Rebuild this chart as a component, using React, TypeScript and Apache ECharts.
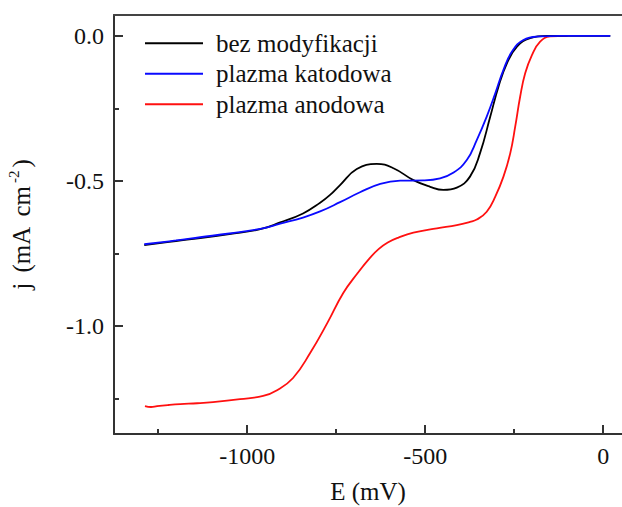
import React, { useEffect, useRef } from "react";
import * as echarts from "echarts";

const FONT = "Liberation Serif";

const seriesNames = ["bez modyfikacji", "plazma katodowa", "plazma anodowa"];
const seriesColors = ["#000000", "#0a0aff", "#ff1010"];

const blackData: [number, number][] = [
  [-1289, -0.721], [-1200, -0.707], [-1132, -0.697], [-1050, -0.683], [-963, -0.666],
  [-907, -0.643], [-843, -0.612], [-795, -0.575], [-767, -0.548], [-739, -0.514],
  [-692, -0.459], [-636, -0.441], [-589, -0.456], [-533, -0.497], [-486, -0.52],
  [-449, -0.531], [-411, -0.523], [-374, -0.485], [-346, -0.405], [-317, -0.278],
  [-294, -0.175], [-270, -0.094], [-242, -0.037], [-205, -0.008], [-158, 0],
  [-100, 0], [20, 0],
];

const blueData: [number, number][] = [
  [-1289, -0.718], [-1200, -0.705], [-1132, -0.694], [-1050, -0.681], [-963, -0.665],
  [-907, -0.647], [-843, -0.626], [-795, -0.605], [-739, -0.573], [-683, -0.539],
  [-626, -0.510], [-570, -0.499], [-505, -0.498], [-458, -0.491], [-420, -0.471],
  [-383, -0.428], [-355, -0.359], [-327, -0.278], [-303, -0.198], [-280, -0.117],
  [-256, -0.054], [-224, -0.014], [-177, -0.002], [-120, 0], [20, 0],
];

const redData: [number, number][] = [
  [-1287, -1.276], [-1270, -1.279], [-1253, -1.276], [-1220, -1.272], [-1188, -1.269],
  [-1140, -1.266], [-1096, -1.262], [-1020, -1.252], [-955, -1.241], [-916, -1.221],
  [-871, -1.179], [-823, -1.093], [-775, -0.99], [-730, -0.886], [-690, -0.818],
  [-655, -0.765], [-630, -0.734], [-605, -0.712], [-575, -0.695], [-533, -0.678],
  [-467, -0.663], [-411, -0.652], [-374, -0.641], [-355, -0.633], [-327, -0.606],
  [-303, -0.554], [-280, -0.485], [-261, -0.405], [-247, -0.313], [-233, -0.209],
  [-219, -0.129], [-200, -0.066], [-177, -0.02], [-149, -0.002], [-100, 0],
];

const xMajorTicks = [-1000, -500, 0];
const xMinorTicks = [-1250, -750, -250];
const yMajorTicks = [0, -0.5, -1.0];
const yMinorTicks = [-0.25, -0.75, -1.25];

const X_MIN = -1374;
const X_MAX = 53;
const Y_MIN = -1.372;
const Y_MAX = 0.072;

const AXIS_COLOR = "#333";

export default function App() {
  const ref = useRef<HTMLDivElement>(null);
  useEffect(() => {
    if (!ref.current) return;
    const chart = echarts.init(ref.current, undefined, { renderer: "svg" });
    const baseX = {
      type: "value" as const,
      min: X_MIN,
      max: X_MAX,
      splitLine: { show: false },
    };
    const baseY = {
      type: "value" as const,
      min: Y_MIN,
      max: Y_MAX,
      splitLine: { show: false },
    };
    const lineSeries = (idx: number, data: [number, number][]) => ({
      name: seriesNames[idx],
      type: "line",
      data,
      color: seriesColors[idx],
      showSymbol: false,
      symbol: "none",
      smooth: 0.45,
      lineStyle: { width: 1.8, color: seriesColors[idx] },
    });
    chart.setOption({
      animation: false,
      backgroundColor: "#ffffff",
      textStyle: { fontFamily: FONT },
      grid: { left: 114, right: 0, top: 15, bottom: 73, containLabel: false, outerBoundsMode: "none" },
      legend: {
        data: seriesNames,
        orient: "vertical",
        left: 140,
        top: 23,
        icon: "rect",
        itemWidth: 58,
        itemHeight: 2,
        itemGap: 0,
        textStyle: {
          fontFamily: FONT,
          fontSize: 25,
          color: "#111",
          lineHeight: 30.5,
          padding: [0, 0, 0, 8],
        },
      },
      xAxis: [
        {
          ...baseX,
          position: "bottom",
          name: "E (mV)",
          nameLocation: "middle",
          nameGap: 45,
          nameTextStyle: { fontFamily: FONT, fontSize: 25, color: "#111" },
          axisLine: { show: true, onZero: false, lineStyle: { color: AXIS_COLOR, width: 2 } },
          axisTick: {
            show: true,
            inside: true,
            length: 9,
            customValues: xMajorTicks,
            lineStyle: { color: AXIS_COLOR, width: 2 },
          },
          axisLabel: {
            customValues: xMajorTicks,
            margin: 10,
            fontFamily: FONT,
            fontSize: 24,
            color: "#111",
            formatter: (v: number) => String(v),
          },
        },
        {
          ...baseX,
          position: "bottom",
          axisLine: { show: false, onZero: false },
          axisTick: {
            show: true,
            inside: true,
            length: 5,
            customValues: xMinorTicks,
            lineStyle: { color: AXIS_COLOR, width: 2 },
          },
          axisLabel: { show: false },
        },
        {
          ...baseX,
          position: "top",
          axisLine: { show: true, onZero: false, lineStyle: { color: "#444", width: 2 } },
          axisTick: { show: false },
          axisLabel: { show: false },
        },
      ],
      yAxis: [
        {
          ...baseY,
          position: "left",
          name: "{a|j} {a|(mA} {a|cm}{sup|-2}{a|)}",
          nameLocation: "middle",
          nameGap: 80,
          nameRotate: 90,
          nameTextStyle: {
            fontFamily: FONT,
            fontSize: 25,
            color: "#111",
            rich: {
              a: { fontFamily: FONT, fontSize: 25, color: "#111", lineHeight: 30, verticalAlign: "bottom", padding: [0, 2, 0, 2] },
              sup: { fontFamily: FONT, fontSize: 15, color: "#111", lineHeight: 30, verticalAlign: "top", padding: [2, 1, 0, 1] },
            },
          },
          axisLine: { show: true, onZero: false, lineStyle: { color: AXIS_COLOR, width: 2 } },
          axisTick: {
            show: true,
            inside: true,
            length: 9,
            customValues: yMajorTicks,
            lineStyle: { color: AXIS_COLOR, width: 2 },
          },
          axisLabel: {
            customValues: yMajorTicks,
            margin: 10,
            fontFamily: FONT,
            fontSize: 24,
            color: "#111",
            formatter: (v: number) => v.toFixed(1),
          },
        },
        {
          ...baseY,
          position: "left",
          axisLine: { show: false, onZero: false },
          axisTick: {
            show: true,
            inside: true,
            length: 5,
            customValues: yMinorTicks,
            lineStyle: { color: AXIS_COLOR, width: 2 },
          },
          axisLabel: { show: false },
        },
      ],
      series: [lineSeries(2, redData), lineSeries(0, blackData), lineSeries(1, blueData)],
    });
    return () => chart.dispose();
  }, []);
  return <div ref={ref} style={{ width: 622, height: 507, position: "absolute", left: 0, top: 0 }} />;
}
